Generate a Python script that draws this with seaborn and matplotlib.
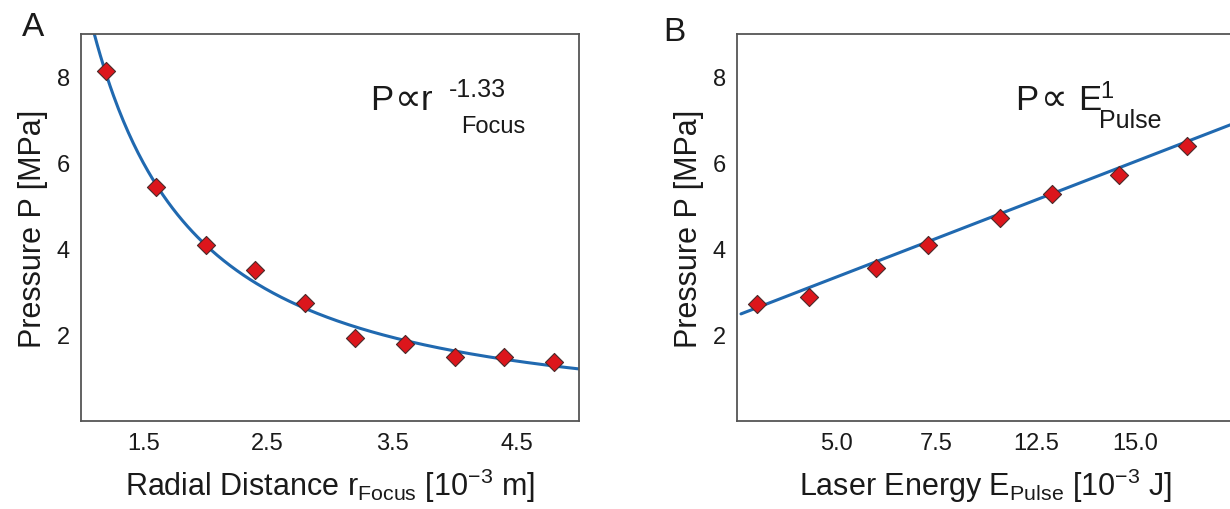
import numpy as np
import matplotlib
matplotlib.use("Agg")
import matplotlib.pyplot as plt
import seaborn as sns

# Panel A: pressure vs. radial focus distance
r_focus = [1.2, 1.6, 2.0, 2.4, 2.8, 3.2, 3.6, 4.0, 4.4, 4.8]
p_radial = [8.15, 5.45, 4.10, 3.52, 2.74, 1.93, 1.80, 1.48, 1.48, 1.37]
radial_fit_coef = 10.3
radial_fit_exp = -1.33

# Panel B: pressure vs. laser pulse energy
e_pulse = [3.0, 4.3, 6.0, 7.3, 9.1, 10.4, 12.1, 13.8]
p_energy = [2.71, 2.89, 3.55, 4.10, 4.72, 5.29, 5.72, 6.40]
energy_fit_slope = 0.358
energy_fit_icpt = 1.56

a_xticks = [1.5, 2.0, 2.5, 3.0, 3.5, 4.0, 4.5]
a_xticklabels = ["1.5", "", "2.5", "", "3.5", "", "4.5"]
b_xticks = [5.0, 7.5, 10.0, 12.5]
b_xticklabels = ["5.0", "7.5", "12.5", "15.0"]
yticks = [1, 2, 3, 4, 5, 6, 7, 8]
yticklabels = ["", "2", "", "4", "", "6", "", "8"]

sns.set_theme(style="white")
plt.rcParams["font.family"] = ["Liberation Sans", "DejaVu Sans"]
plt.rcParams["mathtext.default"] = "regular"

W, H = 1230, 510
fig = plt.figure(figsize=(W / 100, H / 100), dpi=100)


def fx(px):
    return px / W


def fy(py):
    return 1 - py / H


line_col = "#2069b0"
dot_col = "#dc161c"
spine_col = "#555555"
text_col = "#1a1a1a"

ax_a = fig.add_axes([fx(81), fy(422), 498 / W, 387 / H])
ax_b = fig.add_axes([fx(737), fy(422), 498 / W, 387 / H])

# 1. radial distance panel
r_line = np.linspace(1.05, 5.0, 300)
sns.lineplot(x=r_line, y=radial_fit_coef * r_line ** radial_fit_exp, ax=ax_a,
             color=line_col, linewidth=2.2)
sns.scatterplot(x=r_focus, y=p_radial, ax=ax_a, marker="D", s=85,
                color=dot_col, edgecolor="#4a2a2a", linewidth=0.8, zorder=3)
ax_a.set_xlim(1.0, 5.0)
ax_a.set_xticks(a_xticks)
ax_a.set_xticklabels(a_xticklabels)
ax_a.set_xlabel(r"Radial Distance r$_{Focus}$ [10$^{-3}$ m]", fontsize=22,
                labelpad=8, color=text_col)

# 2. laser energy panel
e_line = np.linspace(2.6, 15.5, 50)
sns.lineplot(x=e_line, y=energy_fit_slope * e_line + energy_fit_icpt, ax=ax_b,
             color=line_col, linewidth=2.2)
sns.scatterplot(x=e_pulse, y=p_energy, ax=ax_b, marker="D", s=85,
                color=dot_col, edgecolor="#4a2a2a", linewidth=0.8, zorder=3)
ax_b.set_xlim(2.5, 15.0)
ax_b.set_xticks(b_xticks)
ax_b.set_xticklabels(b_xticklabels)
ax_b.set_xlabel(r"Laser Energy E$_{Pulse}$ [10$^{-3}$ J]", fontsize=22,
                labelpad=8, color=text_col)

for ax in (ax_a, ax_b):
    ax.set_ylim(0, 9)
    ax.set_yticks(yticks)
    ax.set_yticklabels(yticklabels)
    ax.set_ylabel("Pressure P [MPa]", fontsize=22, labelpad=6, color=text_col)
    ax.tick_params(direction="in", length=5, width=1, labelcolor=text_col,
                   labelsize=17, pad=8, color=spine_col)
    for sp in ax.spines.values():
        sp.set_color(spine_col)
        sp.set_linewidth(1.3)

# panel letters
fig.text(fx(22), fy(36), "A", fontsize=24, va="baseline", ha="left", color=text_col)
fig.text(fx(663), fy(41), "B", fontsize=24, va="baseline", ha="left", color=text_col)

# power-law annotations
fig.text(fx(370), fy(110), "P", fontsize=25, va="baseline", ha="left", color=text_col)
fig.text(fx(395), fy(110), "\u221d", fontsize=27, va="baseline", ha="left", color=text_col)
fig.text(fx(421), fy(110), "r", fontsize=25, va="baseline", ha="left", color=text_col)
fig.text(fx(449), fy(97), "-1.33", fontsize=18, va="baseline", ha="left", color=text_col)
fig.text(fx(461), fy(133), "Focus", fontsize=17, va="baseline", ha="left", color=text_col)

fig.text(fx(1015), fy(110), "P", fontsize=25, va="baseline", ha="left", color=text_col)
fig.text(fx(1041), fy(110), "\u221d", fontsize=27, va="baseline", ha="left", color=text_col)
fig.text(fx(1078), fy(110), "E", fontsize=25, va="baseline", ha="left", color=text_col)
fig.text(fx(1100), fy(98), "1", fontsize=17, va="baseline", ha="left", color=text_col)
fig.text(fx(1099), fy(128), "Pulse", fontsize=18, va="baseline", ha="left", color=text_col)

fig.savefig("out.png", dpi=100)
